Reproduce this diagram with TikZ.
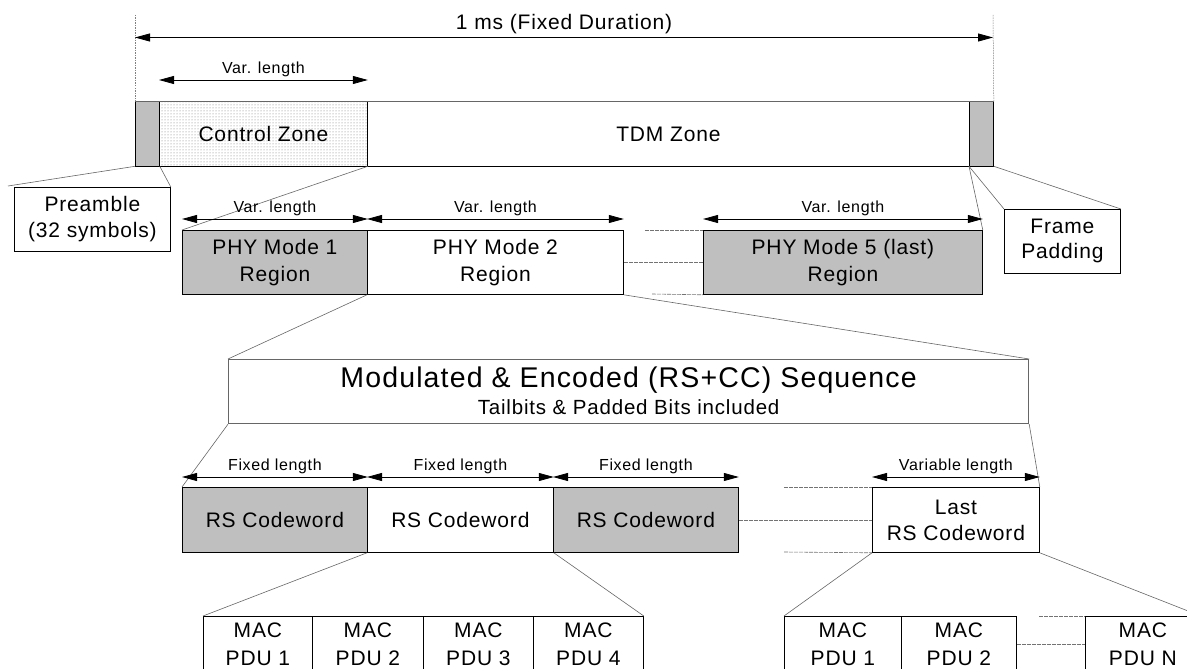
\documentclass[tikz,border=0pt]{standalone}
\usepackage{fontspec}
\setmainfont{Liberation Sans}[LetterSpace=4]
\usetikzlibrary{arrows.meta,patterns,calc}
\begin{document}
\begin{tikzpicture}[x=1pt,y=-1pt,
  box/.style={draw=black, line width=0.8pt, inner sep=0pt, anchor=north west, align=center,
    font=\fontsize{21}{27}\selectfont},
  grayfill/.style={fill=black!25},
  link/.style={draw=black!60, line width=0.6pt},
  gapline/.style={draw=black!55, line width=0.6pt, dash pattern=on 4pt off 1pt},
  vdash/.style={draw=black!50, line width=0.5pt, dash pattern=on 1.5pt off 1pt},
  dim/.style={line width=0.8pt, {Triangle[length=15pt,width=8pt]}-{Triangle[length=15pt,width=8pt]}},
  dimlbl/.style={inner sep=0pt, above=3pt, font=\fontsize{16}{19}\selectfont},
  macbox/.style={box, minimum height=56pt, font=\fontsize{21}{28}\selectfont},
]
\useasboundingbox (0,0) rectangle (1187,669);
\clip (0,0) rectangle (1187,669);

% ---- frame ----
\node[box, grayfill, minimum width=24pt, minimum height=64pt] (pre) at (135,101.5) {};
\node[box, pattern=dots, pattern color=black!55, minimum width=208pt, minimum height=64pt] (ctrl) at (159,101.5) {Control Zone};
\node[box, minimum width=602pt, minimum height=64pt] (tdm) at (367,101.5) {TDM Zone};
\node[box, grayfill, minimum width=24pt, minimum height=64pt] (pad) at (969,101.5) {};
\draw[black!60, line width=1.2pt] (pre.north west) -- (pad.north east);

% top dimension
\coordinate (vl) at (135,15);
\coordinate (vr) at (993,15);
\draw[vdash] (vl) -- (pre.north west);
\draw[vdash] (vr) -- (pad.north east);
\coordinate (tl) at (135,37.5);
\coordinate (tr) at (993,37.5);
\draw[dim] (tl) -- (tr) node[midway, inner sep=0pt, above=3pt, font=\fontsize{21}{24}\selectfont] {1 ms (Fixed Duration)};
\draw[dim] ([yshift=21.5pt]ctrl.north west) -- ([yshift=21.5pt]ctrl.north east) node[midway, dimlbl] {Var. length};

% ---- callouts ----
\node[box, minimum width=156pt, minimum height=64pt, font=\fontsize{21}{26}\selectfont] (preb) at (14,187) {Preamble\\(32 symbols)};
\node[box, minimum width=116pt, minimum height=64pt, font=\fontsize{21}{25}\selectfont] (padb) at (1004,209) {Frame\\Padding};
\coordinate (plink) at (8,186);
\draw[link] (pre.south west) -- (plink);
\draw[link] (pre.south east) -- (preb.north east);
\draw[link] (pad.south west) -- (padb.north west);
\draw[link] (pad.south east) -- (padb.north east);

% ---- PHY row ----
\node[box, grayfill, minimum width=185pt, minimum height=64pt] (phy1) at (182,230) {PHY Mode 1\\Region};
\node[box, minimum width=256pt, minimum height=64pt] (phy2) at (367,230) {PHY Mode 2\\Region};
\node[box, grayfill, minimum width=279pt, minimum height=64pt] (phy5) at (703,230) {PHY Mode 5 (last)\\Region};
\draw[link] (ctrl.south east) -- (phy1.north west);
\draw[link] (pad.south west) -- (phy5.north east);
\draw[dim] ([yshift=11pt]phy1.north west) -- ([yshift=11pt]phy1.north east) node[midway, dimlbl] {Var. length};
\draw[dim] ([yshift=11pt]phy2.north west) -- ([yshift=11pt]phy2.north east) node[midway, dimlbl] {Var. length};
\draw[dim] ([yshift=11pt]phy5.north west) -- ([yshift=11pt]phy5.north east) node[midway, dimlbl] {Var. length};
\coordinate (pg1) at (645,230);
\coordinate (pg3) at (652,294);
\draw[gapline] (pg1) -- (phy5.north west);
\draw[gapline] (phy2.east) -- (phy5.west);
\draw[gapline] (pg3) -- (phy5.south west);

% ---- Modulated sequence ----
\node[box, draw=black!60, line width=1.2pt, minimum width=800pt, minimum height=64pt] (mod) at (228,359) {};
\node[anchor=base, inner sep=0pt, font=\fontsize{28.5}{30}\selectfont] (modt) at ([yshift=-28pt]mod.north) {Modulated \& Encoded (RS+CC) Sequence};
\node[anchor=base, inner sep=0pt, font=\fontsize{20.5}{24}\selectfont] (mods) at ([yshift=-55pt]mod.north) {Tailbits \& Padded Bits included};
\draw[link] (phy2.south west) -- (mod.north west);
\draw[link] (phy2.south east) -- (mod.north east);

% ---- RS row ----
\node[box, grayfill, minimum width=185pt, minimum height=65pt] (rs1) at (182,487) {RS Codeword};
\node[box, minimum width=186pt, minimum height=65pt] (rs2) at (367,487) {RS Codeword};
\node[box, grayfill, minimum width=185pt, minimum height=65pt] (rs3) at (553,487) {RS Codeword};
\node[box, minimum width=167pt, minimum height=65pt, font=\fontsize{21}{26}\selectfont] (rsl) at (872,487) {Last\\RS Codeword};
\draw[link] (mod.south west) -- (rs1.north west);
\draw[link] (mod.south east) -- (rsl.north east);
\draw[dim] ([yshift=10pt]rs1.north west) -- ([yshift=10pt]rs1.north east) node[midway, dimlbl] {Fixed length};
\draw[dim] ([yshift=10pt]rs2.north west) -- ([yshift=10pt]rs2.north east) node[midway, dimlbl] {Fixed length};
\draw[dim] ([yshift=10pt]rs3.north west) -- ([yshift=10pt]rs3.north east) node[midway, dimlbl] {Fixed length};
\draw[dim] ([yshift=10pt]rsl.north west) -- ([yshift=10pt]rsl.north east) node[midway, dimlbl] {Variable length};
\coordinate (rg1) at (784,487);
\coordinate (rg3) at (784,552);
\draw[gapline] (rg1) -- (rsl.north west);
\draw[gapline] (rs3.east) -- (rsl.west);
\draw[gapline] (rg3) -- (rsl.south west);

% ---- MAC row ----
\node[macbox, minimum width=109pt] (m1) at (203,616) {MAC\\PDU 1};
\node[macbox, minimum width=111pt] (m2) at (312,616) {MAC\\PDU 2};
\node[macbox, minimum width=110pt] (m3) at (423,616) {MAC\\PDU 3};
\node[macbox, minimum width=110pt] (m4) at (533,616) {MAC\\PDU 4};
\node[macbox, minimum width=117pt] (n1) at (784,616) {MAC\\PDU 1};
\node[macbox, minimum width=115pt] (n2) at (901,616) {MAC\\PDU 2};
\node[macbox, minimum width=115pt] (mn) at (1085,616) {MAC\\PDU N};
\draw[link] (rs2.south west) -- (m1.north west);
\draw[link] (rs2.south east) -- (m4.north east);
\draw[link] (rsl.south west) -- (n1.north west);
\draw[link] (rsl.south east) -- (mn.north east);
\coordinate (mg1) at (1039,616);
\draw[gapline] (mg1) -- (mn.north west);
\draw[gapline] (n2.east) -- (mn.west);
\end{tikzpicture}
\end{document}
